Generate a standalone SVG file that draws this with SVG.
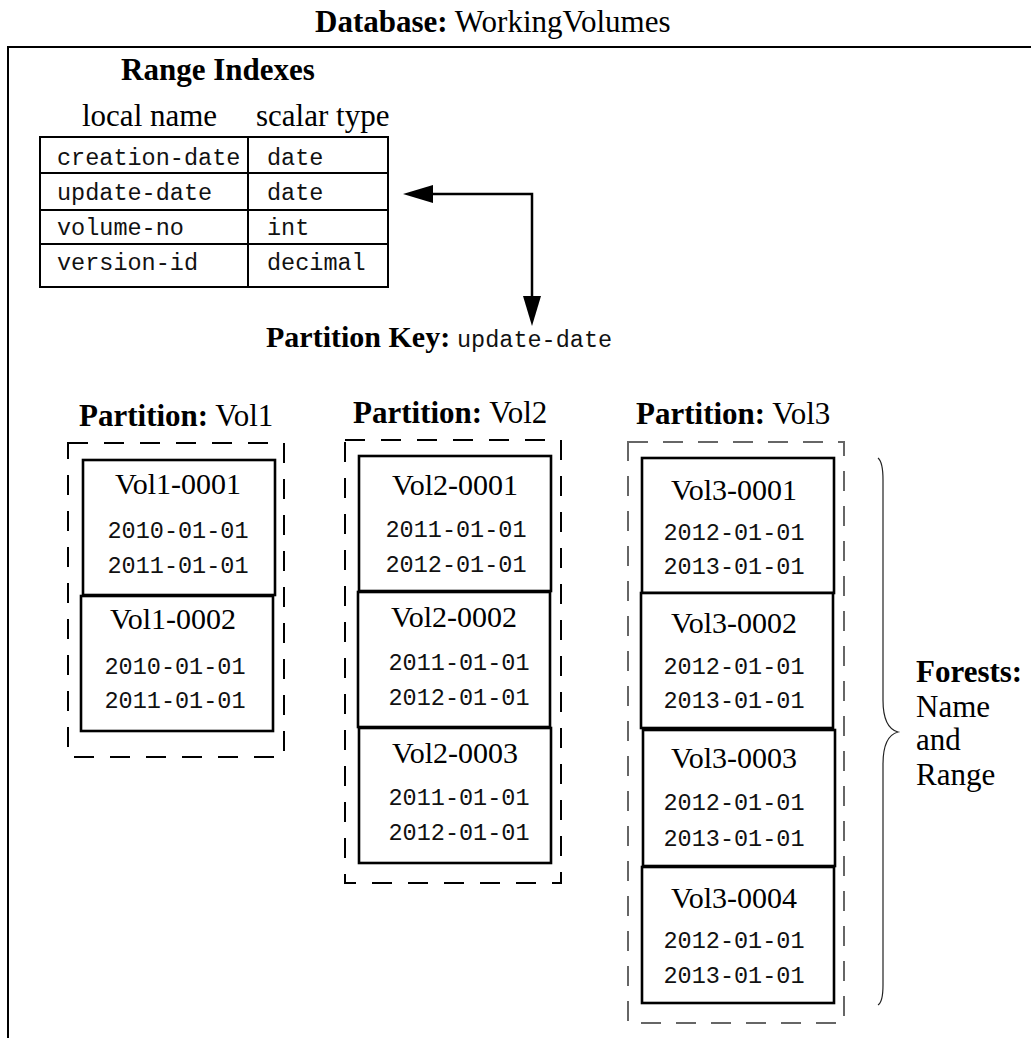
<svg xmlns="http://www.w3.org/2000/svg" width="1031" height="1038" viewBox="0 0 1031 1038">
<defs>
<style>
.serif{font-family:"Liberation Serif","Times New Roman",serif;font-size:31px;fill:#000}
.b{font-weight:bold}
.mono{font-family:"Liberation Mono","Courier New",monospace;font-size:23.5px;fill:#111}
.vol{font-family:"Liberation Serif","Times New Roman",serif;font-size:30px;fill:#000;text-anchor:middle}
.dt{font-family:"Liberation Mono","Courier New",monospace;font-size:23.5px;fill:#111;text-anchor:middle}
.box{fill:#fff;stroke:#000;stroke-width:2.6}
.cell{fill:none;stroke:#000;stroke-width:2}
.dash{fill:none;stroke:#000;stroke-width:2;stroke-dasharray:20 16}
.dashg{fill:none;stroke:#666;stroke-width:2;stroke-dasharray:20 15}
.frame{fill:none;stroke:#000;stroke-width:2}
.conn{fill:none;stroke:#000;stroke-width:2.5}
</style>
<marker id="ah" markerUnits="userSpaceOnUse" viewBox="0 0 30 18" refX="0" refY="9" markerWidth="30" markerHeight="18" orient="auto-start-reverse">
<path d="M0,0 L30,9 L0,18 z" fill="#000"/>
</marker>
</defs>
<rect width="1031" height="1038" fill="#fff"/>

<g id="title">
<text class="serif" x="315" y="32"><tspan class="b">Database:</tspan> WorkingVolumes</text>
</g>

<g id="frame">
<path class="frame" d="M8,1038 V47 H1031"/>
</g>

<g id="range-indexes">
<text class="serif b" x="121" y="80">Range Indexes</text>
<text class="serif" x="82" y="126">local name</text>
<text class="serif" x="256" y="126">scalar type</text>
<rect class="cell" x="40" y="137" width="348" height="150"/>
<line class="cell" x1="248" y1="137" x2="248" y2="287"/>
<line class="cell" x1="40" y1="173" x2="388" y2="173"/>
<line class="cell" x1="40" y1="210" x2="388" y2="210"/>
<line class="cell" x1="40" y1="244" x2="388" y2="244"/>
<text class="mono" x="57" y="165">creation-date</text>
<text class="mono" x="267" y="165">date</text>
<text class="mono" x="57" y="200">update-date</text>
<text class="mono" x="267" y="200">date</text>
<text class="mono" x="57" y="235">volume-no</text>
<text class="mono" x="267" y="235">int</text>
<text class="mono" x="57" y="270">version-id</text>
<text class="mono" x="267" y="270">decimal</text>
</g>

<g id="connectors">
<path class="conn" d="M433,194 H532 V296" marker-start="url(#ah)" marker-end="url(#ah)"/>
</g>

<g id="partition-key">
<text class="serif b" x="266" y="347" style="font-size:30px">Partition Key:</text>
<text class="mono" x="457" y="347">update-date</text>
</g>

<g id="partition-vol1">
<text class="serif" x="79" y="426"><tspan class="b">Partition:</tspan> Vol1</text>
<rect class="dash" x="68" y="443" width="216" height="314"/>
<g id="vol1-0001">
<rect class="box" x="83" y="460" width="192" height="135"/>
<text class="vol" x="178" y="494">Vol1-0001</text>
<text class="dt" x="178" y="538">2010-01-01</text>
<text class="dt" x="178" y="573">2011-01-01</text>
</g>
<g id="vol1-0002">
<rect class="box" x="81" y="596" width="192" height="135"/>
<text class="vol" x="173" y="629">Vol1-0002</text>
<text class="dt" x="175" y="674">2010-01-01</text>
<text class="dt" x="175" y="708">2011-01-01</text>
</g>
</g>

<g id="partition-vol2">
<text class="serif" x="353" y="423"><tspan class="b">Partition:</tspan> Vol2</text>
<rect class="dash" x="345" y="440" width="216" height="443"/>
<g id="vol2-0001">
<rect class="box" x="359" y="456" width="192" height="135"/>
<text class="vol" x="455" y="495">Vol2-0001</text>
<text class="dt" x="456" y="537">2011-01-01</text>
<text class="dt" x="456" y="572">2012-01-01</text>
</g>
<g id="vol2-0002">
<rect class="box" x="358" y="592" width="192" height="135"/>
<text class="vol" x="454" y="627">Vol2-0002</text>
<text class="dt" x="459" y="670">2011-01-01</text>
<text class="dt" x="459" y="705">2012-01-01</text>
</g>
<g id="vol2-0003">
<rect class="box" x="359" y="728" width="192" height="135"/>
<text class="vol" x="455" y="763">Vol2-0003</text>
<text class="dt" x="459" y="805">2011-01-01</text>
<text class="dt" x="459" y="840">2012-01-01</text>
</g>
</g>

<g id="partition-vol3">
<text class="serif" x="636" y="424"><tspan class="b">Partition:</tspan> Vol3</text>
<rect class="dashg" x="628" y="442" width="216" height="581"/>
<g id="vol3-0001">
<rect class="box" x="642" y="458" width="192" height="135"/>
<text class="vol" x="734" y="500">Vol3-0001</text>
<text class="dt" x="734" y="540">2012-01-01</text>
<text class="dt" x="734" y="574">2013-01-01</text>
</g>
<g id="vol3-0002">
<rect class="box" x="641" y="593" width="192" height="135"/>
<text class="vol" x="734" y="633">Vol3-0002</text>
<text class="dt" x="734" y="674">2012-01-01</text>
<text class="dt" x="734" y="708">2013-01-01</text>
</g>
<g id="vol3-0003">
<rect class="box" x="643" y="730" width="192" height="136"/>
<text class="vol" x="734" y="768">Vol3-0003</text>
<text class="dt" x="734" y="810">2012-01-01</text>
<text class="dt" x="734" y="846">2013-01-01</text>
</g>
<g id="vol3-0004">
<rect class="box" x="642" y="867" width="192" height="136"/>
<text class="vol" x="734" y="908">Vol3-0004</text>
<text class="dt" x="734" y="948">2012-01-01</text>
<text class="dt" x="734" y="983">2013-01-01</text>
</g>
</g>

<g id="forests">
<path d="M878,458 Q883,462 883,480 V700 Q883,728 898,732 Q883,736 883,764 V985 Q883,1002 878,1005" fill="none" stroke="#222" stroke-width="1.2"/>
<text class="serif b" x="916" y="682">Forests:</text>
<text class="serif" x="916" y="717">Name</text>
<text class="serif" x="916" y="750">and</text>
<text class="serif" x="916" y="785">Range</text>
</g>
</svg>
